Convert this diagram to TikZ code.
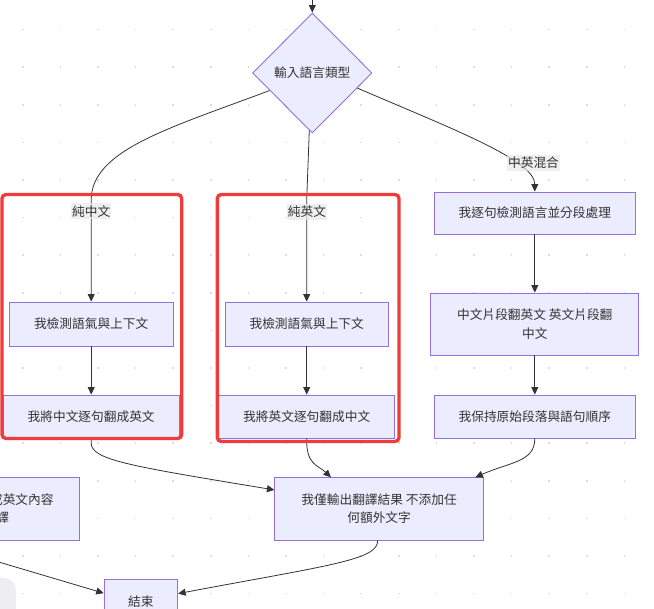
\documentclass[tikz,border=0pt]{standalone}
\usepackage{fontspec}
\setmainfont{Noto Sans CJK TC}
\usetikzlibrary{shapes.geometric,arrows.meta,calc}
\definecolor{boxfill}{HTML}{ECECFF}
\definecolor{boxline}{HTML}{9370DB}
\definecolor{txt}{HTML}{333333}
\definecolor{edgec}{HTML}{333333}
\definecolor{lab}{HTML}{E8E8E8}
\definecolor{hl}{HTML}{EE3B3B}
\definecolor{dotc}{HTML}{DEDEDE}
\definecolor{uigray}{HTML}{EEEEF2}
\begin{document}
\begin{tikzpicture}[x=1pt,y=-1pt,
  font=\fontsize{12.7}{18.3}\selectfont,
  flowbox/.style={draw=boxline, fill=boxfill, line width=0.9pt, inner sep=0pt, align=center, text=txt},
  decision/.style={diamond, draw=boxline, fill=boxfill, line width=0.9pt, inner sep=0pt, text=txt, minimum width=119.4pt, minimum height=120pt},
  edgelabel/.style={fill=lab, fill opacity=0.7, text opacity=1, text=txt, inner sep=1pt, minimum height=16pt},
  flow/.style={draw=edgec, line width=0.8pt},
  arrowed/.style={flow, -{Triangle[length=7.5pt,width=7pt]}},
  highlight/.style={draw=hl, line width=3.4pt, rounded corners=4pt}]
\useasboundingbox (0,0) rectangle (654,609);
\clip (0,0) rectangle (654,609);
% background dot grid
\foreach \i in {0,...,16} {
  \foreach \j in {0,...,15} {
    \fill[dotc] ({22.7+37.6*\i-0.8},{29.6+37.6*\j-0.8}) rectangle ++(1.6,1.6);
  }
}
% faint UI shape bottom-left
\fill[uigray, rounded corners=12pt] (-40,578) rectangle (16,660);

% nodes
\coordinate (top) at (312.3,0);
\node[decision] (d) at (312.3,73) {輸入語言類型};
\node[flowbox, minimum width=163.6pt, minimum height=44pt] (a1) at (91.2,324) {我檢測語氣與上下文};
\node[flowbox, minimum width=175.7pt, minimum height=43pt] (a2) at (91.2,416.5) {我將中文逐句翻成英文};
\node[flowbox, minimum width=163.3pt, minimum height=44pt] (b1) at (306.7,324) {我檢測語氣與上下文};
\node[flowbox, minimum width=175.8pt, minimum height=43pt] (b2) at (306.7,416.5) {我將英文逐句翻成中文};
\node[flowbox, minimum width=201.3pt, minimum height=42pt] (c1) at (534.8,213) {我逐句檢測語言並分段處理};
\node[flowbox, minimum width=208pt, minimum height=62pt] (c2) at (534.8,324) {中文片段翻英文 英文片段翻\\中文};
\node[flowbox, minimum width=201.3pt, minimum height=43pt] (c3) at (534.8,416.5) {我保持原始段落與語句順序};
\node[flowbox, minimum width=208.4pt, minimum height=62.3pt] (o) at (379.1,508.9) {我僅輸出翻譯結果 不添加任\\何額外文字};
\node[flowbox, minimum width=204pt, minimum height=62.3pt] (p) at (-22.6,508.9) {我將其他語言轉成英文內容\\再逐句翻譯};
\node[flowbox, minimum width=73.5pt, minimum height=43.8pt] (e) at (140.9,601.2) {結束};
\coordinate (pe) at (-30,553.5);

% edges
\draw[arrowed] (top) -- (d.north);
\draw[arrowed] ($(d.west)!0.29!(d.south)$) .. controls (170,128) and (91.2,150) .. (91.2,200) -- (a1.north);
\draw[arrowed] ($(d.south)!0.05!(d.west)$) -- (306.7,200) -- (b1.north);
\draw[arrowed] ($(d.east)!0.25!(d.south)$) .. controls (450,128) and (534.8,160) .. (c1.north);
\draw[arrowed] (a1.south) -- (a2.north);
\draw[arrowed] (b1.south) -- (b2.north);
\draw[arrowed] (c1.south) -- (c2.north);
\draw[arrowed] (c2.south) -- (c3.north);
\draw[arrowed] (a2.south) -- (91.2,443) .. controls (91.2,460) and (130,466) .. ($(o.north west)!0.2!(o.south west)$);
\draw[arrowed] (b2.south) .. controls (306,465) and (318,465) .. ($(o.north west)!0.27!(o.north east)$);
\draw[arrowed] (c3.south) .. controls (535,462) and (510,462) .. ($(o.north west)!0.96!(o.north east)$);
\draw[arrowed] (o.south -| 377.7,0) .. controls (378,560) and (330,565) .. ($(e.north east)!0.33!(e.south east)$);
\draw[arrowed] (pe) -- ($(e.north west)!0.32!(e.south west)$);

% edge labels
\node[edgelabel] (l1) at (91.2,211.5) {純中文};
\node[edgelabel] (l2) at (306.9,212) {純英文};
\node[edgelabel] (l3) at (533.5,163) {中英混合};

% highlight frames
\draw[highlight] (2,194.5) rectangle (181.7,438.5);
\draw[highlight] (217.3,194.5) rectangle (399,441.5);
\end{tikzpicture}
\end{document}
